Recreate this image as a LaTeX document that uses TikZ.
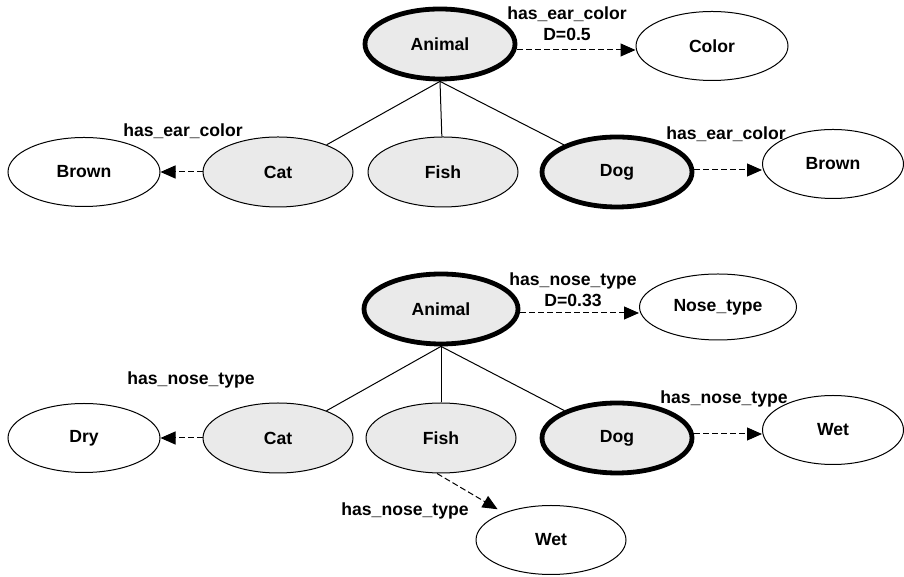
\documentclass[tikz,border=0pt]{standalone}
\usepackage{fontspec}
\setmainfont{Liberation Sans}
\usetikzlibrary{arrows.meta, shapes.geometric}
\definecolor{conceptgray}{HTML}{EAEAEA}

\begin{document}
\begin{tikzpicture}[x=1pt, y=1pt, line width=1pt,
    font=\fontsize{17.6}{21}\selectfont\bfseries,
    concept/.style={ellipse, draw, fill=conceptgray, minimum width=150pt, minimum height=70pt},
    value/.style={ellipse, draw, minimum width=152pt, minimum height=69pt},
    focus/.style={line width=4.8pt},
    rel/.style={dash pattern=on 6pt off 3pt, -{Triangle[length=15pt, width=13pt]}}]
    \useasboundingbox (0, 0) rectangle (904, 577);

    % ear colour
    \node[concept, focus] (animalA) at (440, 533) {Animal};
    \node[value] (color) at (712, 531) {Color};
    \node[value] (brownA) at (84, 405) {Brown};
    \node[concept] (catA) at (278, 405) {Cat};
    \node[concept] (fishA) at (443, 405) {Fish};
    \node[concept, focus] (dogA) at (617, 405) {Dog};
    \node[value, minimum width=141pt] (brownB) at (833, 413) {Brown};

    \draw (animalA.south) -- (catA);
    \draw (animalA.south) -- (fishA);
    \draw (animalA.south) -- (dogA);

    \draw[rel] ([yshift=-6pt]animalA.east) -- ([yshift=-4pt]color.west);
    \draw[rel] (catA) -- (brownA);
    \draw[rel] ([yshift=2pt]dogA.east) -- ([yshift=2pt]dogA.east -| brownB.west);

    \node[align=center] (earlblA) at (567, 553) {has\_ear\_color\\D=0.5};
    \node (earlblB) at (183, 446) {has\_ear\_color};
    \node (earlblC) at (726, 443) {has\_ear\_color};

    % nose type
    \node[concept, focus, minimum width=154pt] (animalB) at (441, 268) {Animal};
    \node[value, minimum width=157pt, minimum height=66pt] (nose) at (718, 270) {Nose\_type};
    \node[value] (dry) at (84, 139) {Dry};
    \node[concept] (catB) at (278, 139) {Cat};
    \node[concept] (fishB) at (441, 139) {Fish};
    \node[concept, focus] (dogB) at (617, 139) {Dog};
    \node[value, minimum width=141pt] (wetA) at (833, 147) {Wet};
    \node[value, minimum width=150pt] (wetB) at (551, 37) {Wet};

    \draw (animalB.south) -- (catB);
    \draw (animalB.south) -- (fishB);
    \draw (animalB.south) -- (dogB);

    \draw[rel] ([yshift=-4pt]animalB.east) -- ([yshift=-6pt]nose.west);
    \draw[rel] (catB) -- (dry);
    \draw[rel] ([yshift=4pt]dogB.east) -- ([yshift=4pt]dogB.east -| wetA.west);
    \draw[rel] ([xshift=-4pt]fishB.south) -- ([yshift=6pt]wetB.north west);

    \node[align=center] (noselblA) at (573, 287) {has\_nose\_type\\D=0.33};
    \node (noselblB) at (191, 197) {has\_nose\_type};
    \node (noselblC) at (724, 178) {has\_nose\_type};
    \node (noselblD) at (405, 66) {has\_nose\_type};

\end{tikzpicture}
\end{document}
